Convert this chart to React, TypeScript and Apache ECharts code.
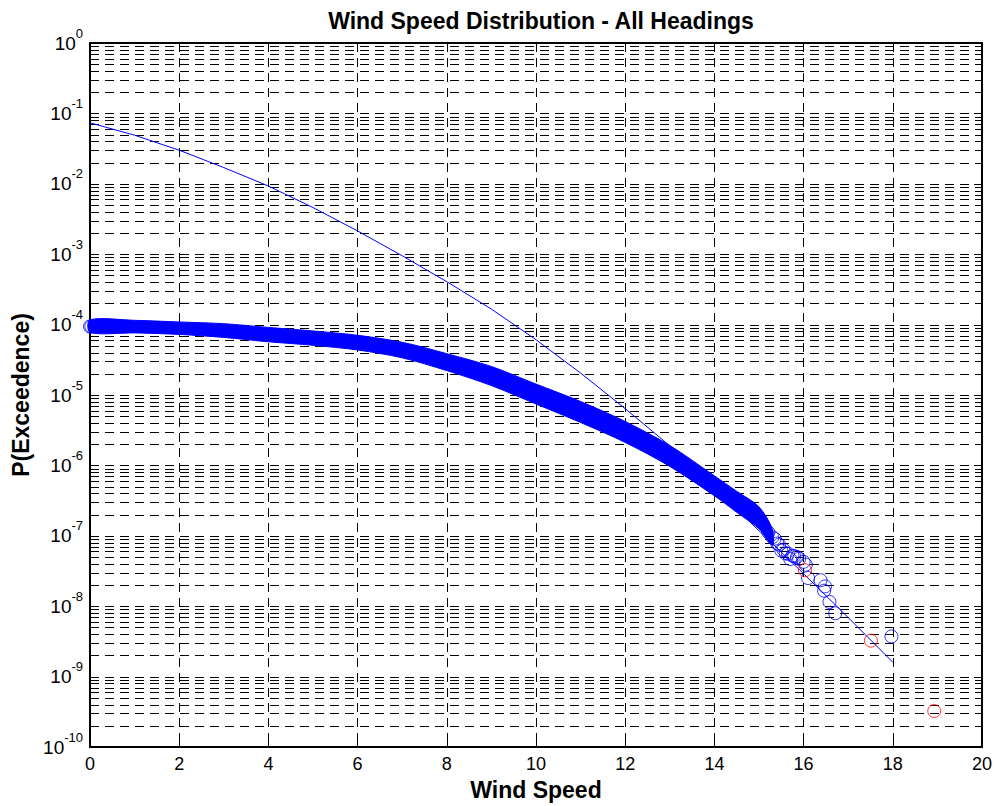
import React, { useEffect, useRef } from "react";
import * as echarts from "echarts";

// ---- data ----
const lineSpeed = [0, 1, 2, 3, 4, 5, 6, 7, 8, 9, 10, 11, 12, 13, 14, 15, 16, 17, 18];
const lineP = [7.35e-2, 4.9e-2, 3.0e-2, 1.7e-2, 9.3e-3, 4.6e-3, 2.14e-3, 9.5e-4, 4.07e-4, 1.66e-4, 6.1e-5, 2.05e-5, 6.4e-6, 1.9e-6, 4.8e-7, 1.18e-7, 2.9e-8, 6.9e-9, 1.6e-9];

// dense band of overlapping blue circles (upper / lower envelope)
const bandSpeed = [0, 1, 2, 3, 4, 5, 6, 7, 8, 9, 10, 11, 12, 13, 14, 14.5, 15, 15.3];
const bandUpper = [1.17e-4, 1.15e-4, 1.09e-4, 1.03e-4, 9.12e-5, 8.13e-5, 7.06e-5, 5.61e-5, 3.87e-5, 2.54e-5, 1.43e-5, 8.09e-6, 4.21e-6, 1.92e-6, 7.11e-7, 4.29e-7, 2.58e-7, 1.24e-7];
const bandLower = [7.74e-5, 7.62e-5, 7.25e-5, 6.58e-5, 5.7e-5, 5.08e-5, 4.36e-5, 3.37e-5, 2.22e-5, 1.36e-5, 7.45e-6, 4.07e-6, 2.12e-6, 9.68e-7, 3.7e-7, 2.16e-7, 1.26e-7, 7.35e-8];

// individual blue circles
const blueSpeed = [0, 0.03, 15.21, 15.3, 15.35, 15.41, 15.45, 15.5, 15.55, 15.6, 15.65, 15.7, 15.75, 15.79, 15.85, 15.9, 16.0, 16.05, 16.1, 16.38, 16.46, 16.48, 16.58, 16.71, 17.97];
const blueP = [9.4e-5, 9.4e-5, 1.12e-7, 9.55e-8, 9.1e-8, 7.76e-8, 7.47e-8, 6.17e-8, 6.35e-8, 5.62e-8, 5.57e-8, 4.68e-8, 5.22e-8, 5.13e-8, 5.0e-8, 4.73e-8, 4.27e-8, 3.89e-8, 2.51e-8, 2.34e-8, 1.66e-8, 1.91e-8, 1.15e-8, 7.94e-9, 3.72e-9];

// red circles
const redSpeed = [16.03, 17.51, 18.93];
const redP = [3.24e-8, 3.24e-9, 3.24e-10];

// log-axis tick values
const decadeValues = [1e-10, 1e-9, 1e-8, 1e-7, 1e-6, 1e-5, 1e-4, 1e-3, 1e-2, 1e-1, 1];
const decades = [-10, -9, -8, -7, -6, -5, -4, -3, -2, -1];
const mantissas = [2, 3, 4, 5, 6, 7, 8, 9];
const minorValues: number[] = [];
decades.forEach((d) => mantissas.forEach((m) => minorValues.push(Number((m * Math.pow(10, d)).toPrecision(3)))));
const innerDecades = decadeValues.slice(1, -1);

const FONT = "'Liberation Sans', Arial, Helvetica, sans-serif";
const DASH = [9, 6];

export default function App() {
  const ref = useRef<HTMLDivElement>(null);
  useEffect(() => {
    document.body.style.margin = "0";
    const chart = echarts.init(ref.current!, undefined, { renderer: "svg" });
    const axisLine = { show: true, onZero: false, lineStyle: { color: "#000", width: 2 } };
    const gridLine = (tick: number) => (params: any, api: any) => {
      const cs = params.coordSys;
      let y = api.coord([0, api.value(1)])[1];
      y = Math.round(y) + 0.5;
      return {
        type: "group",
        children: [
          { type: "line", shape: { x1: cs.x, y1: y, x2: cs.x + cs.width, y2: y }, style: { stroke: "#000", lineWidth: 1, lineDash: DASH } },
          { type: "line", shape: { x1: cs.x, y1: y, x2: cs.x + tick, y2: y }, style: { stroke: "#000", lineWidth: 1 } },
          { type: "line", shape: { x1: cs.x + cs.width - tick, y1: y, x2: cs.x + cs.width, y2: y }, style: { stroke: "#000", lineWidth: 1 } },
        ],
      };
    };
    const option: any = {
      animation: false,
      backgroundColor: "#fff",
      title: {
        text: "Wind Speed Distribution - All Headings",
        left: 536,
        textAlign: "center",
        top: 4,
        textStyle: { fontFamily: FONT, fontSize: 23, fontWeight: "bold", color: "#000" },
      },
      grid: { left: 90, right: 13, top: 43, bottom: 57, containLabel: false },
      xAxis: [
        {
          type: "value",
          min: 0,
          max: 20,
          interval: 2,
          position: "bottom",
          axisLine,
          axisTick: { show: true, inside: true, length: 8, lineStyle: { color: "#000" } },
          axisLabel: { color: "#000", fontSize: 18, fontFamily: FONT, margin: 8 },
          splitLine: { show: true, lineStyle: { color: "#000", width: 1, type: DASH } },
          name: "Wind Speed",
          nameLocation: "middle",
          nameGap: 31,
          nameTextStyle: { color: "#000", fontFamily: FONT, fontSize: 23, fontWeight: "bold" },
        },
        {
          type: "value",
          min: 0,
          max: 20,
          interval: 2,
          position: "top",
          axisLine,
          axisTick: { show: true, inside: true, length: 8, lineStyle: { color: "#000" } },
          axisLabel: { show: false },
          splitLine: { show: false },
        },
      ],
      yAxis: [
        {
          type: "log",
          logBase: 10,
          min: 1e-10,
          max: 1,
          position: "left",
          axisLine,
          axisTick: { show: false },
          axisLabel: {
            margin: 7,
            customValues: decadeValues,
            formatter: (v: number) => `{b|10}{s|${Math.round(Math.log10(v))}}`,
            rich: {
              b: { fontFamily: FONT, fontSize: 19, color: "#000" },
              s: { fontFamily: FONT, fontSize: 13, color: "#000", padding: [0, 0, 20, 0] },
            },
          },
          splitLine: { show: false },
          name: "P(Exceedence)",
          nameLocation: "middle",
          nameGap: 57,
          nameTextStyle: { color: "#000", fontFamily: FONT, fontSize: 23, fontWeight: "bold" },
        },
        {
          type: "log",
          logBase: 10,
          min: 1e-10,
          max: 1,
          position: "right",
          axisLine,
          axisTick: { show: false },
          axisLabel: { show: false },
          splitLine: { show: false },
        },
      ],
      series: [
        {
          type: "custom",
          name: "minorGrid",
          silent: true,
          z: 1,
          clip: false,
          data: minorValues.map((v) => [0, v]),
          renderItem: gridLine(4),
        },
        {
          type: "custom",
          name: "majorGrid",
          silent: true,
          z: 1,
          clip: false,
          data: innerDecades.map((v) => [0, v]),
          renderItem: gridLine(8),
        },
        {
          type: "line",
          name: "fit",
          z: 3,
          data: lineSpeed.map((x, i) => [x, lineP[i]]),
          showSymbol: false,
          symbol: "none",
          lineStyle: { color: "#0000ff", width: 1 },
        },
        {
          type: "custom",
          name: "band",
          z: 4,
          silent: true,
          data: [[0, 1e-4]],
          renderItem: (params: any, api: any) => {
            const pts: number[][] = [];
            bandSpeed.forEach((x, i) => pts.push(api.coord([x, bandUpper[i]])));
            for (let i = bandSpeed.length - 1; i >= 0; i--) pts.push(api.coord([bandSpeed[i], bandLower[i]]));
            return { type: "polygon", shape: { points: pts, smooth: 0.3 }, style: { fill: "#0000ff", stroke: "#0000ff", lineWidth: 1 } };
          },
        },
        {
          type: "scatter",
          name: "blue",
          z: 5,
          symbol: "circle",
          symbolSize: 13,
          data: blueSpeed.map((x, i) => [x, blueP[i]]),
          itemStyle: { color: "rgba(0,0,0,0)", borderColor: "#0000ff", borderWidth: 1 },
        },
        {
          type: "scatter",
          name: "red",
          z: 6,
          symbol: "circle",
          symbolSize: 13,
          data: redSpeed.map((x, i) => [x, redP[i]]),
          itemStyle: { color: "rgba(0,0,0,0)", borderColor: "#ff0000", borderWidth: 1 },
        },
      ],
    };
    chart.setOption(option);
    return () => chart.dispose();
  }, []);
  return <div ref={ref} style={{ width: 995, height: 806 }} />;
}
